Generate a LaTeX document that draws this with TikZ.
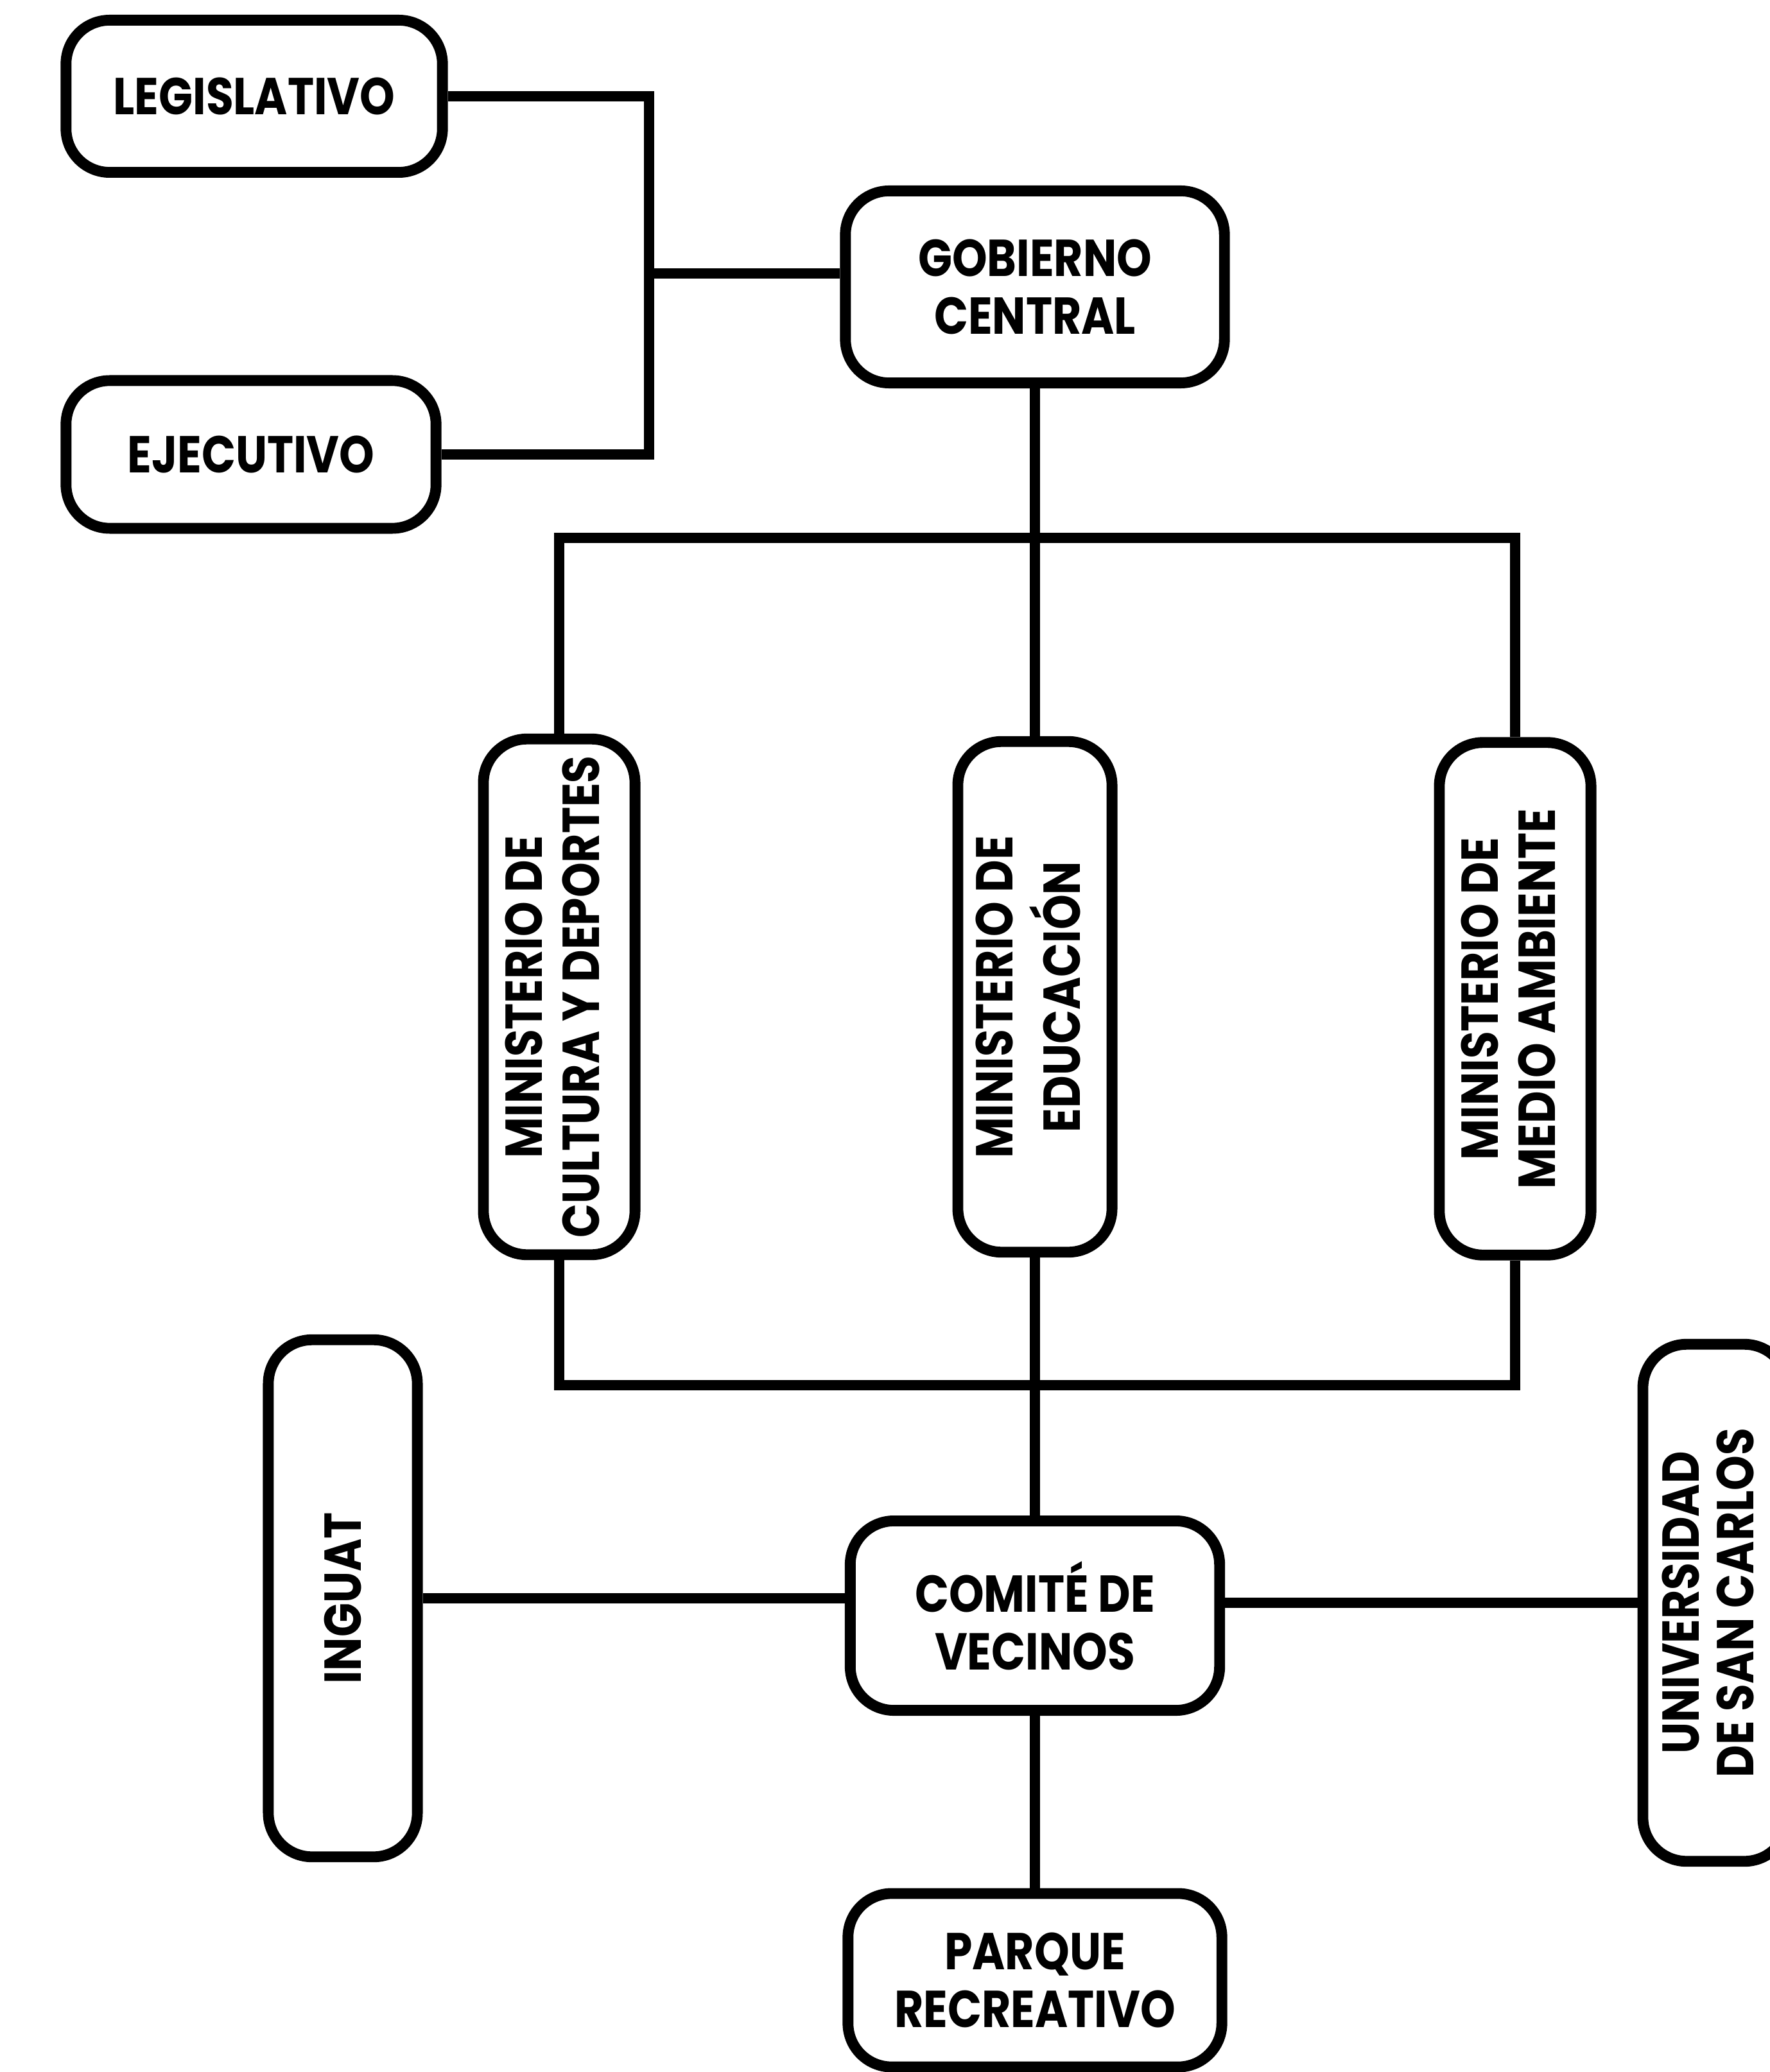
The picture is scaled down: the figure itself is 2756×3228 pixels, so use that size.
\documentclass[tikz,border=0pt]{standalone}
\usepackage{fontspec}
\setmainfont{Poppins}[FakeStretch=0.86]
\newcommand{\vtxt}[2]{\rotatebox{90}{\begin{tabular}{@{}c@{}}#1\\#2\end{tabular}}}
\begin{document}
\begin{tikzpicture}[x=0.01cm,y=-0.01cm,
  box/.style={draw=black, line width=4.8pt, rounded corners=0.68cm, inner sep=0pt,
    align=center, font=\fontsize{23}{25.5}\selectfont\bfseries},
  conn/.style={draw=black, line width=4.3pt}]
\path[fill=white, use as bounding box] (0,0) rectangle (2756,3228);

\node[box, minimum width=5.86cm, minimum height=2.37cm] (legis) at (396,150) {LEGISLATIVO};
\node[box, minimum width=5.76cm, minimum height=2.30cm] (ejec) at (391,708) {EJECUTIVO};
\node[box, minimum width=5.90cm, minimum height=2.99cm] (gob) at (1612,447) {GOBIERNO\\CENTRAL};

\node[box, minimum width=2.36cm, minimum height=8.03cm] (cul) at (871,1553) {\vtxt{MINISTERIO DE}{CULTURA Y DEPORTES}};
\node[box, minimum width=2.40cm, minimum height=7.95cm] (edu) at (1612,1553) {\vtxt{MINISTERIO DE}{EDUCACIÓN}};
\node[box, minimum width=2.36cm, minimum height=7.98cm] (med) at (2360,1556) {\vtxt{MINISTERIO DE}{MEDIO AMBIENTE}};

\node[box, minimum width=2.32cm, minimum height=8.05cm] (inguat) at (534,2490) {\rotatebox{90}{INGUAT}};
\node[box, minimum width=5.75cm, minimum height=2.95cm] (com) at (1612,2517) {COMITÉ DE\\VECINOS};
\node[box, minimum width=2.26cm, minimum height=8.05cm, font=\fontsize{23}{24}\selectfont\bfseries] (univ) at (2672,2497) {\vtxt{UNIVERSIDAD}{DE SAN CARLOS}};
\node[box, minimum width=5.82cm, minimum height=2.70cm] (parque) at (1612,3085) {PARQUE\\RECREATIVO};

\coordinate (j1) at (1011,426);
\coordinate (tb) at (0,838);
\coordinate (bb) at (0,2158);

\draw[conn] (legis.east) -| (j1) |- (ejec.east);
\draw[conn] (j1) -- (j1 -| gob.west);
\draw[conn] (gob.south) -- (edu.north);
\draw[conn] (cul.north) -- (cul.north |- tb) -- (med.north |- tb) -- (med.north);
\draw[conn] (cul.south) -- (cul.south |- bb) -- (med.south |- bb) -- (med.south);
\draw[conn] (edu.south) -- (com.north);
\draw[conn] (inguat.east) -- (inguat.east -| com.west);
\draw[conn] (univ.west -| com.east) -- (univ.west);
\draw[conn] (com.south) -- (parque.north);
\end{tikzpicture}
\end{document}
